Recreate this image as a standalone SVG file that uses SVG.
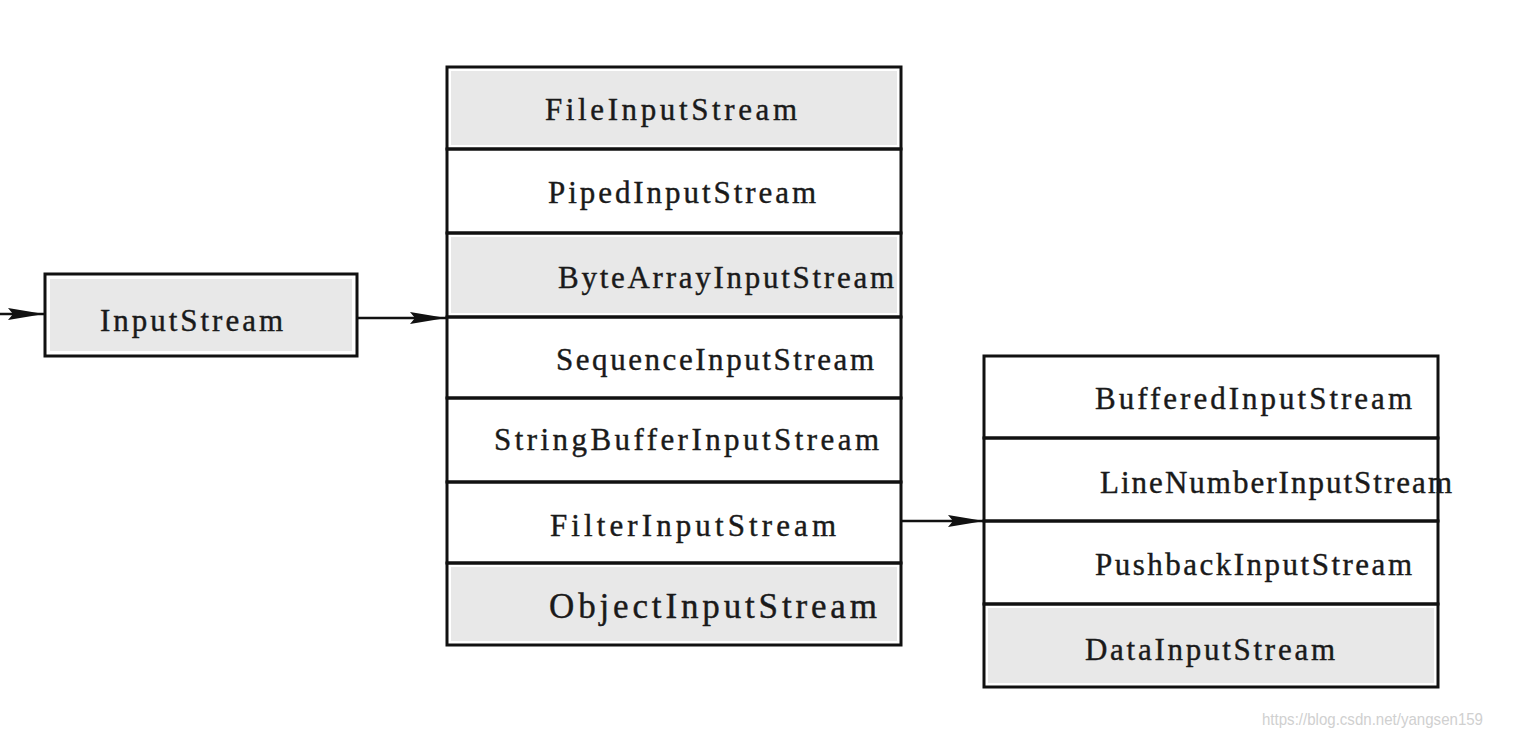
<svg xmlns="http://www.w3.org/2000/svg" width="1516" height="737" viewBox="0 0 1516 737">
<style>
.t{font-family:"Liberation Serif","Times New Roman",serif;font-size:31px;fill:#1a1a1a;stroke:#1a1a1a;stroke-width:0.4;}
.g{fill:#e8e8e8;}
.b{fill:none;stroke:#111;stroke-width:3;}
.c{stroke:#111;stroke-width:2.5;fill:none;}
.wm{font-family:"Liberation Sans",Arial,sans-serif;font-size:17px;fill:#d0d0d0;}
</style>
<defs>
<marker id="ah" markerWidth="36" markerHeight="14" refX="36" refY="7" orient="auto" markerUnits="userSpaceOnUse">
<path d="M0,1 L36,7 L0,13 L5,7 Z" fill="#111"/>
</marker>
</defs>
<rect width="1516" height="737" fill="#fff"/>

<g id="connectors">
<line class="c" x1="0" y1="314" x2="44" y2="314" marker-end="url(#ah)"/>
<line class="c" x1="358" y1="318" x2="446" y2="318" marker-end="url(#ah)"/>
<line class="c" x1="901" y1="521" x2="984" y2="521" marker-end="url(#ah)"/>
</g>

<g id="InputStream">
<rect x="45" y="274" width="312" height="82" fill="#fff"/>
<rect class="g" x="50" y="279" width="302" height="72"/>
<rect class="b" x="45" y="274" width="312" height="82" stroke-width="4"/>
<text class="t" x="100" y="331" textLength="183" lengthAdjust="spacing">InputStream</text>
</g>

<g id="FileInputStream">
<rect class="g" x="451" y="71" width="446" height="74"/>
<rect class="b" x="447" y="67" width="454" height="82"/>
<text class="t" x="545" y="120" textLength="252" lengthAdjust="spacing">FileInputStream</text>
</g>
<g id="PipedInputStream">
<rect class="b" x="447" y="149" width="454" height="84"/>
<text class="t" x="548" y="203" textLength="268" lengthAdjust="spacing">PipedInputStream</text>
</g>
<g id="ByteArrayInputStream">
<rect class="g" x="451" y="237" width="446" height="76"/>
<rect class="b" x="447" y="233" width="454" height="84"/>
<text class="t" x="558" y="288" textLength="336" lengthAdjust="spacing">ByteArrayInputStream</text>
</g>
<g id="SequenceInputStream">
<rect class="b" x="447" y="317" width="454" height="81"/>
<text class="t" x="556" y="370" textLength="318" lengthAdjust="spacing">SequenceInputStream</text>
</g>
<g id="StringBufferInputStream">
<rect class="b" x="447" y="398" width="454" height="84"/>
<text class="t" x="494" y="450" textLength="385" lengthAdjust="spacing">StringBufferInputStream</text>
</g>
<g id="FilterInputStream">
<rect class="b" x="447" y="482" width="454" height="81"/>
<text class="t" x="550" y="536" textLength="286" lengthAdjust="spacing">FilterInputStream</text>
</g>
<g id="ObjectInputStream">
<rect class="g" x="451" y="567" width="446" height="74"/>
<rect class="b" x="447" y="563" width="454" height="82"/>
<text class="t" x="549" y="618" style="font-size:35px" textLength="328" lengthAdjust="spacing">ObjectInputStream</text>
</g>

<g id="BufferedInputStream">
<rect class="b" x="984" y="356" width="454" height="82"/>
<text class="t" x="1095" y="409" textLength="317" lengthAdjust="spacing">BufferedInputStream</text>
</g>
<g id="LineNumberInputStream">
<rect class="b" x="984" y="438" width="454" height="83"/>
<text class="t" x="1100" y="493" textLength="352" lengthAdjust="spacing">LineNumberInputStream</text>
</g>
<g id="PushbackInputStream">
<rect class="b" x="984" y="521" width="454" height="83"/>
<text class="t" x="1095" y="575" textLength="317" lengthAdjust="spacing">PushbackInputStream</text>
</g>
<g id="DataInputStream">
<rect class="g" x="988" y="608" width="446" height="75"/>
<rect class="b" x="984" y="604" width="454" height="83"/>
<text class="t" x="1085" y="660" textLength="250" lengthAdjust="spacing">DataInputStream</text>
</g>

<text class="wm" x="1262" y="725" textLength="221" lengthAdjust="spacingAndGlyphs">https://blog.csdn.net/yangsen159</text>
</svg>
